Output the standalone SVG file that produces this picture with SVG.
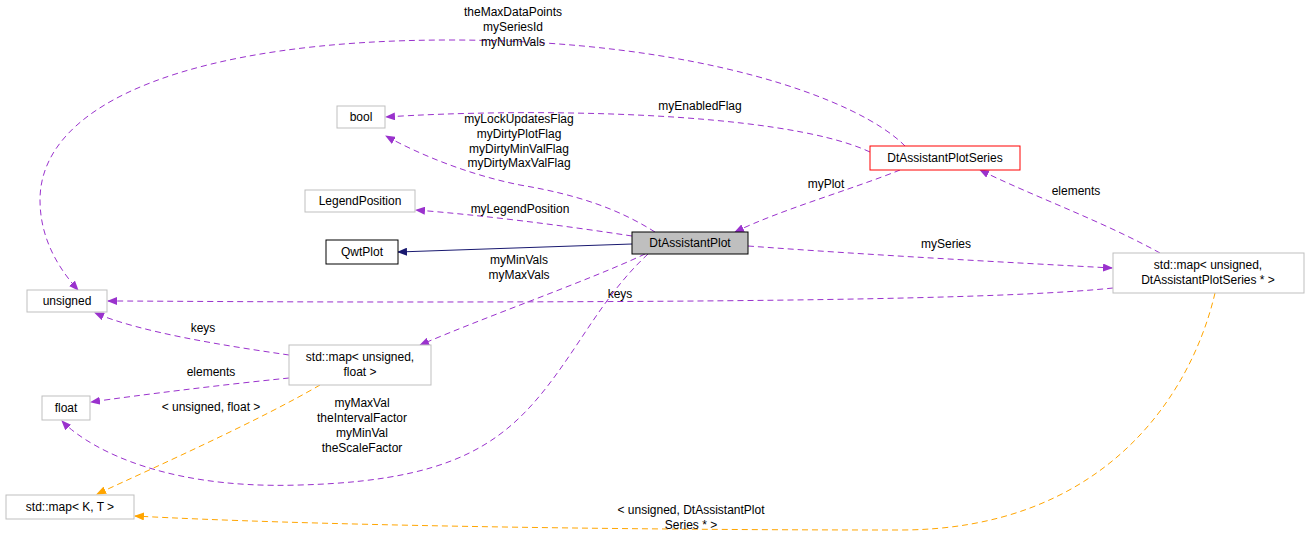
<svg xmlns="http://www.w3.org/2000/svg" width="1309" height="539" viewBox="0 0 1309 539">
<style>
text{font-family:"Liberation Sans",Arial,sans-serif;font-size:12px;fill:#000}
.n{fill:#fff;stroke:#bfbfbf;stroke-width:1}
.p{fill:none;stroke:#9a32cd;stroke-dasharray:6,4}
.o{fill:none;stroke:#ffa500;stroke-dasharray:6,4}
.b{fill:none;stroke:#191970}
</style>
<defs>
<marker id="mp" markerWidth="10" markerHeight="8" refX="9" refY="4" orient="auto" markerUnits="userSpaceOnUse"><path d="M0,0L10,4L0,8z" fill="#9a32cd"/></marker>
<marker id="mo" markerWidth="10" markerHeight="8" refX="9" refY="4" orient="auto" markerUnits="userSpaceOnUse"><path d="M0,0L10,4L0,8z" fill="#ffa500"/></marker>
<marker id="mb" markerWidth="10" markerHeight="8" refX="9" refY="4" orient="auto" markerUnits="userSpaceOnUse"><path d="M0,0L10,4L0,8z" fill="#191970"/></marker>
</defs>
<rect width="1309" height="539" fill="#fff"/>
<g id="connectors">
<path class="b" d="M632,244 L398,252" marker-end="url(#mb)"/>
<path class="p" d="M655,232 C620,210 580,195 520,185 C470,175 420,155 386,136" marker-end="url(#mp)"/>
<text x="519" y="123" text-anchor="middle">myLockUpdatesFlag</text>
<text x="519" y="138" text-anchor="middle">myDirtyPlotFlag</text>
<text x="519" y="153" text-anchor="middle">myDirtyMinValFlag</text>
<text x="519" y="167" text-anchor="middle">myDirtyMaxValFlag</text>
<path class="p" d="M870,152 C780,110 520,108 386,117" marker-end="url(#mp)"/>
<text x="700" y="110" text-anchor="middle">myEnabledFlag</text>
<path class="p" d="M905,146 C860,100 700,40 450,40 C200,40 40,100 40,200 C40,240 60,270 78,290" marker-end="url(#mp)"/>
<text x="513" y="16" text-anchor="middle">theMaxDataPoints</text>
<text x="513" y="31" text-anchor="middle">mySeriesId</text>
<text x="513" y="46" text-anchor="middle">myNumVals</text>
<path class="p" d="M632,236 C560,225 480,215 416,210" marker-end="url(#mp)"/>
<text x="520" y="213" text-anchor="middle">myLegendPosition</text>
<path class="p" d="M900,170 C850,190 780,210 735,232" marker-end="url(#mp)"/>
<text x="826" y="188" text-anchor="middle">myPlot</text>
<path class="p" d="M1160,253 C1100,220 1030,195 980,170" marker-end="url(#mp)"/>
<text x="1076" y="195" text-anchor="middle">elements</text>
<path class="p" d="M748,246 C870,255 1000,262 1112,268" marker-end="url(#mp)"/>
<text x="946" y="248" text-anchor="middle">mySeries</text>
<path class="p" d="M1113,288 C1000,300 700,302 400,302 C250,302 150,301 108,301" marker-end="url(#mp)"/>
<text x="620" y="298" text-anchor="middle">keys</text>
<path class="p" d="M645,254 C590,280 490,315 420,345" marker-end="url(#mp)"/>
<text x="519" y="264" text-anchor="middle">myMinVals</text>
<text x="519" y="279" text-anchor="middle">myMaxVals</text>
<path class="p" d="M289,355 C220,345 140,332 95,313" marker-end="url(#mp)"/>
<text x="203" y="332" text-anchor="middle">keys</text>
<path class="p" d="M289,378 C220,385 140,395 91,402" marker-end="url(#mp)"/>
<text x="211" y="376" text-anchor="middle">elements</text>
<path class="p" d="M648,254 C620,280 600,310 580,340 C520,430 480,480 300,485 C150,490 80,440 62,421" marker-end="url(#mp)"/>
<text x="362" y="407" text-anchor="middle">myMaxVal</text>
<text x="362" y="422" text-anchor="middle">theIntervalFactor</text>
<text x="362" y="437" text-anchor="middle">myMinVal</text>
<text x="362" y="452" text-anchor="middle">theScaleFactor</text>
<path class="o" d="M320,385 C260,420 160,465 97,494" marker-end="url(#mo)"/>
<text x="211" y="411" text-anchor="middle">&lt; unsigned, float &gt;</text>
<path class="o" d="M1215,293 C1190,400 1100,530 900,530 C600,530 300,525 135,516" marker-end="url(#mo)"/>
<text x="691" y="514" text-anchor="middle">&lt; unsigned, DtAssistantPlot</text>
<text x="691" y="529" text-anchor="middle">Series * &gt;</text>
</g>
<g id="bool"><rect class="n" x="337" y="106" width="48" height="22"/><text x="361" y="121" text-anchor="middle">bool</text></g>
<g id="LegendPosition"><rect class="n" x="305" y="190" width="110" height="22"/><text x="360" y="205" text-anchor="middle">LegendPosition</text></g>
<g id="QwtPlot"><rect x="326" y="240" width="72" height="24" fill="#fff" stroke="#000"/><text x="362" y="256" text-anchor="middle">QwtPlot</text></g>
<g id="DtAssistantPlot"><rect x="632" y="232" width="116" height="22" fill="#bfbfbf" stroke="#000"/><text x="690" y="247" text-anchor="middle">DtAssistantPlot</text></g>
<g id="DtAssistantPlotSeries"><rect x="870" y="146" width="150" height="24" fill="#fff" stroke="#ff0000"/><text x="945" y="162" text-anchor="middle">DtAssistantPlotSeries</text></g>
<g id="unsigned"><rect class="n" x="27" y="290" width="80" height="22"/><text x="67" y="305" text-anchor="middle">unsigned</text></g>
<g id="mapUF"><rect class="n" x="289" y="345" width="142" height="40"/><text x="360" y="361" text-anchor="middle">std::map&lt; unsigned,</text><text x="360" y="376" text-anchor="middle">float &gt;</text></g>
<g id="float"><rect class="n" x="42" y="396" width="48" height="24"/><text x="66" y="412" text-anchor="middle">float</text></g>
<g id="mapKT"><rect class="n" x="6" y="495" width="128" height="24"/><text x="70" y="511" text-anchor="middle">std::map&lt; K, T &gt;</text></g>
<g id="mapUS"><rect class="n" x="1113" y="253" width="191" height="40"/><text x="1208" y="269" text-anchor="middle">std::map&lt; unsigned,</text><text x="1208" y="284" text-anchor="middle">DtAssistantPlotSeries * &gt;</text></g>
</svg>
